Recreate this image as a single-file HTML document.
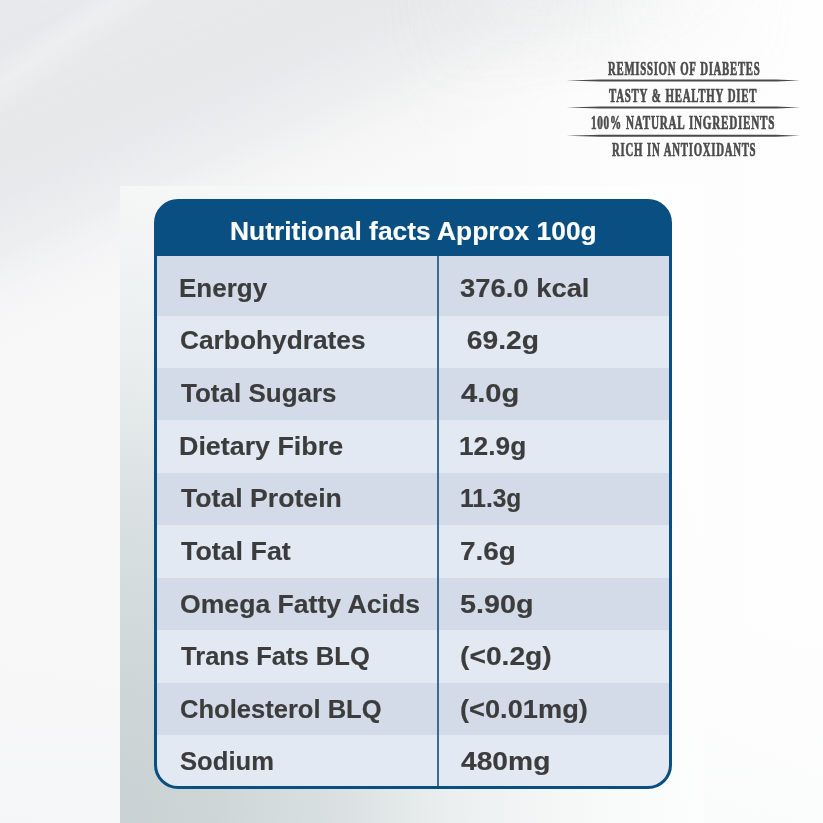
<!DOCTYPE html>
<html><head><meta charset="utf-8">
<style>
html,body{margin:0;padding:0;}
body{width:823px;height:823px;overflow:hidden;position:relative;background:#f4f4f4;font-family:"Liberation Sans",sans-serif;}
.bg{position:absolute;left:0;top:0;width:823px;height:823px;}
.panel{position:absolute;left:120px;top:186px;width:583px;height:637px;overflow:hidden;}
.tbl{position:absolute;left:154px;top:199px;width:518px;height:590px;box-sizing:border-box;
 border:3px solid #094f82;border-radius:24px;overflow:hidden;background:#094f82;}
.hdr{position:absolute;left:0;top:0;right:0;height:54px;background:#094f82;}
.row{position:absolute;left:0;right:0;}
.dk{background:#d4dbe8;}
.lt{background:#e2e9f3;}
.dv{position:absolute;left:280px;top:54px;width:2px;bottom:0;background:#3d6a93;}
.t{position:absolute;white-space:nowrap;font-weight:bold;font-size:25.0px;line-height:30px;color:#3c3c3d;transform-origin:0 0;-webkit-text-stroke:0.15px currentColor;}
.h{color:#fff;}
.tag{position:absolute;white-space:nowrap;font-family:"Liberation Serif",serif;font-weight:bold;color:#4c4c4c;font-size:18px;line-height:20px;transform-origin:0 0;-webkit-text-stroke:0.7px #4c4c4c;letter-spacing:1.2px;word-spacing:1px;}
svg{position:absolute;left:0;top:0;}
</style></head><body>
<div class="bg" style="background:linear-gradient(90deg, #f8f8f9 0%, #f9f9f9 55%, #fdfdfd 78%, #fefefe 100%);"></div>
<div class="bg" style="background:linear-gradient(156.2deg, rgba(205,208,212,0.36) 0px, rgba(205,208,212,0.40) 140px, rgba(205,208,212,0.38) 175px, rgba(205,208,212,0.23) 230px, rgba(205,208,212,0.08) 270px, rgba(205,208,212,0) 320px);
 -webkit-mask-image:linear-gradient(90deg,#000 0,#000 400px,rgba(0,0,0,.75) 550px,transparent 780px);mask-image:linear-gradient(90deg,#000 0,#000 400px,rgba(0,0,0,.75) 550px,transparent 780px);"></div>
<div class="bg" style="background:linear-gradient(144deg, rgba(255,255,255,0) 48px, rgba(250,251,252,0.3) 68px, rgba(255,255,255,0) 95px);"></div>
<div class="bg" style="background:linear-gradient(180deg, rgba(205,208,212,0.13) 0, rgba(205,208,212,0.09) 45px, rgba(205,208,212,0) 95px);-webkit-mask-image:linear-gradient(90deg,transparent 380px,#000 600px,transparent 800px);mask-image:linear-gradient(90deg,transparent 380px,#000 600px,transparent 800px);"></div>
<div class="bg" style="background:linear-gradient(0deg, rgba(215,222,226,0.08) 0, rgba(215,222,226,0) 200px);"></div>
<div class="panel" style="background:
 radial-gradient(ellipse 500px 720px at 0px 637px, rgb(200,209,211) 0%, rgb(206,214,216) 20%, rgb(219,225,226) 45%, rgb(234,238,239) 65%, rgb(244,246,246) 85%, rgb(249,250,250) 100%, rgb(254,254,254) 125%);"></div>
<svg width="823" height="823"><path d="M566.5 80.5 L600 79.5 L776 79.5 L800 80.5 L776 81.5 L600 81.5 Z M566.5 107.4 L600 106.4 L776 106.4 L800 107.4 L776 108.4 L600 108.4 Z M566.5 135.8 L600 134.8 L776 134.8 L800 135.8 L776 136.8 L600 136.8 Z " fill="#4a4a4a"/></svg>
<div class="tag" style="left:607.88px;top:59.00px;transform:scaleX(0.5986);">REMISSION OF DIABETES</div>
<div class="tag" style="left:609.10px;top:85.80px;transform:scaleX(0.6040);">TASTY &amp; HEALTHY DIET</div>
<div class="tag" style="left:590.96px;top:113.00px;transform:scaleX(0.6188);">100% NATURAL INGREDIENTS</div>
<div class="tag" style="left:611.89px;top:139.70px;transform:scaleX(0.5987);">RICH IN ANTIOXIDANTS</div>
<div class="tbl">
 <div class="hdr" style="height:54px"></div>
 <div class="row dk" style="top:54px;height:60px;"></div>
 <div class="row lt" style="top:114px;height:52px;"></div>
 <div class="row dk" style="top:166px;height:52px;"></div>
 <div class="row lt" style="top:218px;height:53px;"></div>
 <div class="row dk" style="top:271px;height:52px;"></div>
 <div class="row lt" style="top:323px;height:53px;"></div>
 <div class="row dk" style="top:376px;height:52px;"></div>
 <div class="row lt" style="top:428px;height:53px;"></div>
 <div class="row dk" style="top:481px;height:52px;"></div>
 <div class="row lt" style="top:533px;height:67px;"></div>
 <div class="dv" style="top:54px"></div>
</div>
<div class="t h" style="left:229.76px;top:216.20px;transform:scaleX(1.0544);">Nutritional facts Approx 100g</div>
<div class="t" style="left:178.95px;top:272.80px;transform:scaleX(1.0395);">Energy</div>
<div class="t" style="left:459.91px;top:272.80px;transform:scaleX(1.0957);">376.0 kcal</div>
<div class="t" style="left:179.95px;top:325.43px;transform:scaleX(1.0517);">Carbohydrates</div>
<div class="t" style="left:459.16px;top:325.43px;transform:scaleX(1.1282);">&nbsp;69.2g</div>
<div class="t" style="left:181.00px;top:378.06px;transform:scaleX(1.0403);">Total Sugars</div>
<div class="t" style="left:461.00px;top:378.06px;transform:scaleX(1.1670);">4.0g</div>
<div class="t" style="left:178.85px;top:430.69px;transform:scaleX(1.0735);">Dietary Fibre</div>
<div class="t" style="left:458.86px;top:430.69px;transform:scaleX(1.0514);">12.9g</div>
<div class="t" style="left:181.00px;top:483.32px;transform:scaleX(1.0656);">Total Protein</div>
<div class="t" style="left:460.07px;top:483.32px;transform:scaleX(0.9801);">11.3g</div>
<div class="t" style="left:181.00px;top:535.95px;transform:scaleX(1.0724);">Total Fat</div>
<div class="t" style="left:459.85px;top:535.95px;transform:scaleX(1.1160);">7.6g</div>
<div class="t" style="left:179.93px;top:588.58px;transform:scaleX(1.0640);">Omega Fatty Acids</div>
<div class="t" style="left:459.87px;top:588.58px;transform:scaleX(1.1515);">5.90g</div>
<div class="t" style="left:181.00px;top:641.21px;transform:scaleX(1.0217);">Trans Fats BLQ</div>
<div class="t" style="left:459.90px;top:641.21px;transform:scaleX(1.1289);">(&lt;0.2g)</div>
<div class="t" style="left:179.98px;top:693.84px;transform:scaleX(1.0220);">Cholesterol BLQ</div>
<div class="t" style="left:459.87px;top:693.84px;transform:scaleX(1.0888);">(&lt;0.01mg)</div>
<div class="t" style="left:179.93px;top:746.47px;transform:scaleX(1.0247);">Sodium</div>
<div class="t" style="left:461.00px;top:746.47px;transform:scaleX(1.1282);">480mg</div>
</body></html>
